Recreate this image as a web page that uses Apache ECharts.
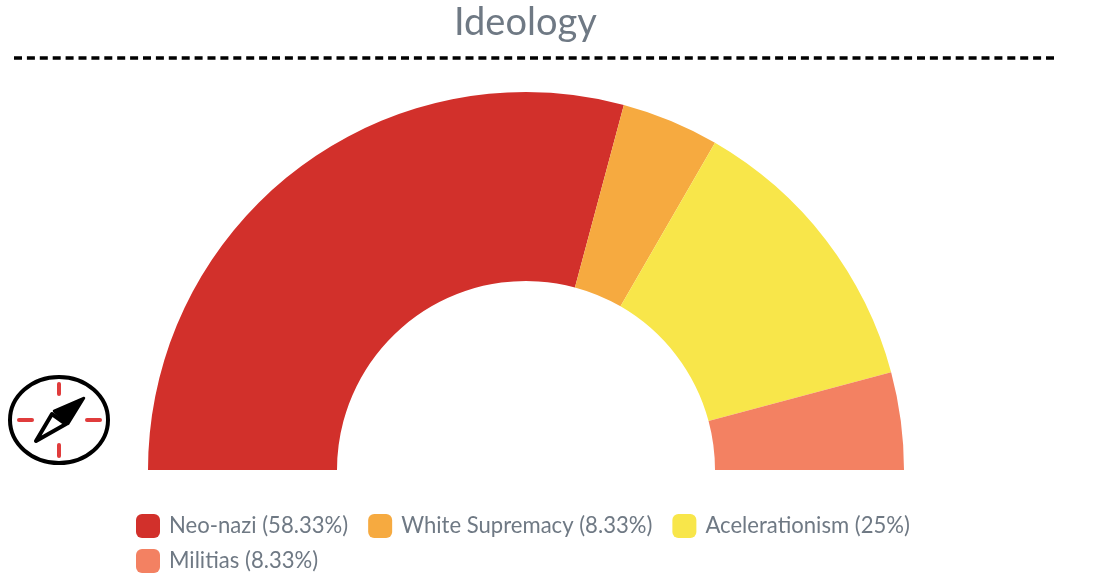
<!DOCTYPE html>
<html><head><meta charset="utf-8">
<style>html,body{margin:0;padding:0;background:#fff}#c{width:1094px;height:578px}</style>
<script src="https://cdn.jsdelivr.net/npm/echarts@6/dist/echarts.min.js"></script>
</head><body><div id="c"></div>
<script>
const categories = ['Neo-nazi (58.33%)','White Supremacy (8.33%)','Acelerationism (25%)','Militias (8.33%)'];
const values = [58.33, 8.33, 25, 8.33];
const colors = ['#d2302b','#f6aa40','#f8e64a','#f38162'];
const chartTitle = 'Ideology';

const FONT = 'Lato';
const TEXT = '#6f7984';
const legendBase = {
  orient:'horizontal', icon:'roundRect', itemWidth:24, itemHeight:24, itemGap:20, padding:0,
  textStyle:{fontFamily:FONT,fontSize:22.1,color:TEXT,padding:[0,0,0,4]},
  selectedMode:false
};
const red = '#e03c3c';
const tick = (x1,y1,x2,y2)=>({type:'line',shape:{x1,y1,x2,y2},style:{stroke:red,lineWidth:4,lineCap:'round'}});
const chart = echarts.init(document.getElementById('c'));
chart.setOption({
  animation:false,
  color:colors,
  title:{text:chartTitle,left:454,top:4,padding:0,textStyle:{fontFamily:FONT,fontSize:38,fontWeight:'normal',color:TEXT}},
  legend:[
    Object.assign({},legendBase,{left:136,top:514,data:categories.slice(0,3)}),
    Object.assign({},legendBase,{left:136,top:549,data:categories.slice(3)})
  ],
  series:[{
    type:'pie',
    center:[526,470],
    radius:[189,378],
    startAngle:180,endAngle:360,
    label:{show:false},labelLine:{show:false},
    emphasis:{disabled:true},
    itemStyle:{borderWidth:0},
    data:categories.map((name,i)=>({name,value:values[i]}))
  }],
  graphic:[
    {type:'line',shape:{x1:14,y1:58,x2:1054,y2:58},style:{stroke:'#000',lineWidth:3.5,lineDash:[8,4.9]}},
    {type:'ellipse',shape:{cx:59,cy:420,rx:49,ry:43},style:{fill:'#fff',stroke:'#000',lineWidth:4}},
    tick(59,384,59,394),tick(59,445,59,456),tick(19,420,32,420),tick(87,420,100,420),
    {type:'polygon',shape:{points:[[84,398],[54,411],[68,424]]},style:{fill:'#000',stroke:'#000',lineWidth:2.5,lineJoin:'round'}},
    {type:'polygon',shape:{points:[[36,441],[52,414],[66,424]]},style:{fill:'#fff',stroke:'#000',lineWidth:4,lineJoin:'round'}}
  ]
});
</script></body></html>
